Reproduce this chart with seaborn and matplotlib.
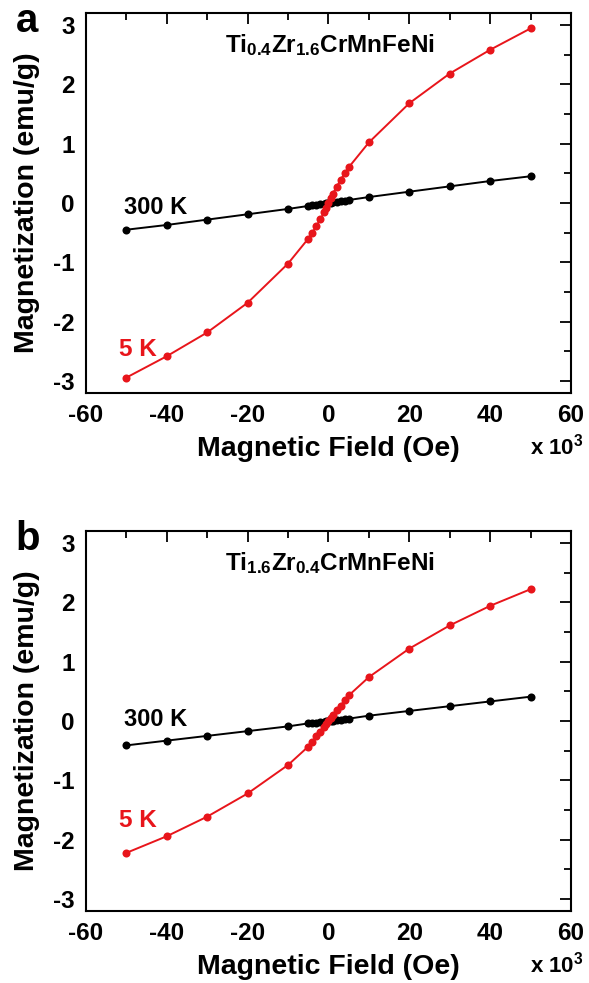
import numpy as np
import pandas as pd
import matplotlib
matplotlib.use("Agg")
import matplotlib.pyplot as plt
import seaborn as sns
from matplotlib.ticker import MultipleLocator

# ---------------- data (field in units of 10^3 Oe) ----------------
field = [-50, -40, -30, -20, -10, -5, -4, -3, -2, -1, -0.5, 0,
         0.5, 1, 2, 3, 4, 5, 10, 20, 30, 40, 50]

m5K_a = [-2.94, -2.58, -2.18, -1.68, -1.02, -0.60, -0.50, -0.39, -0.27, -0.15, -0.08, 0.0,
         0.08, 0.15, 0.27, 0.39, 0.50, 0.60, 1.02, 1.68, 2.18, 2.58, 2.94]
m300K_a = [-0.45, -0.37, -0.28, -0.19, -0.10, -0.05, -0.04, -0.03, -0.02, -0.01, -0.005, 0.0,
           0.005, 0.01, 0.02, 0.03, 0.04, 0.05, 0.10, 0.19, 0.28, 0.37, 0.45]

m5K_b = [-2.22, -1.94, -1.61, -1.22, -0.74, -0.43, -0.35, -0.26, -0.18, -0.10, -0.05, 0.0,
         0.05, 0.10, 0.18, 0.26, 0.35, 0.43, 0.74, 1.22, 1.61, 1.94, 2.22]
m300K_b = [-0.41, -0.33, -0.25, -0.17, -0.09, -0.04, -0.035, -0.025, -0.017, -0.008, -0.004, 0.0,
           0.004, 0.008, 0.017, 0.025, 0.035, 0.04, 0.09, 0.17, 0.25, 0.33, 0.41]

panel_letters = ["a", "b"]
compounds = [r"Ti$_{0.4}$Zr$_{1.6}$CrMnFeNi", r"Ti$_{1.6}$Zr$_{0.4}$CrMnFeNi"]
xticks = [-60, -40, -20, 0, 20, 40, 60]
yticks = [-3, -2, -1, 0, 1, 2, 3]
label_300K_y = [-0.08, 0.02]
label_5K_y = [-2.47, -1.68]

RED = "#e8151b"
BLACK = "#000000"

# ---------------- style ----------------
sns.set_theme(style="white")
plt.rcParams["font.family"] = ["Liberation Sans", "DejaVu Sans"]
plt.rcParams["font.weight"] = "bold"
plt.rcParams["text.color"] = "black"
plt.rcParams["axes.labelcolor"] = "black"
plt.rcParams["xtick.color"] = "black"
plt.rcParams["ytick.color"] = "black"
plt.rcParams["mathtext.fontset"] = "custom"
plt.rcParams["mathtext.rm"] = "Liberation Sans:bold"
plt.rcParams["mathtext.bf"] = "Liberation Sans:bold"
plt.rcParams["mathtext.it"] = "Liberation Sans:bold"
plt.rcParams["mathtext.default"] = "rm"

fig = plt.figure(figsize=(5.89, 9.83), dpi=100)
positions = [[0.146, 0.6002, 0.8234, 0.3866], [0.146, 0.0732, 0.8234, 0.3866]]

series = [(m5K_a, m300K_a), (m5K_b, m300K_b)]

for i in range(2):
    ax = fig.add_axes(positions[i])
    m5, m300 = series[i]
    df = pd.DataFrame({"field": field * 2,
                       "M": list(m300) + list(m5),
                       "T": ["300 K"] * len(field) + ["5 K"] * len(field)})
    sns.lineplot(data=df, x="field", y="M", hue="T", palette={"300 K": BLACK, "5 K": RED},
                 marker="o", markersize=5.8, markeredgewidth=0, linewidth=1.4,
                 sort=False, estimator=None, legend=False, ax=ax)
    ax.set_xlim(-60, 60)
    ax.set_ylim(-3.2, 3.2)
    ax.set_xticks(xticks)
    ax.set_yticks(yticks)
    ax.set_xticklabels([str(t) for t in xticks])
    ax.set_yticklabels([str(t) for t in yticks])
    ax.xaxis.set_minor_locator(MultipleLocator(10))
    ax.yaxis.set_minor_locator(MultipleLocator(0.5))
    ax.tick_params(which="major", direction="in", length=8, width=1.3,
                   top=True, right=True, labelsize=17.5, colors="black")
    ax.tick_params(axis="x", which="major", pad=8)
    ax.tick_params(axis="y", which="major", pad=8)
    ax.tick_params(which="minor", direction="in", length=5, width=1.3,
                   top=True, right=True)
    for lab in ax.get_xticklabels() + ax.get_yticklabels():
        lab.set_fontweight("bold")
    for s in ax.spines.values():
        s.set_visible(True)
        s.set_color("black")
        s.set_linewidth(1.5)
    ax.set_xlabel("Magnetic Field (Oe)", fontsize=20.5, fontweight="bold", va="top")
    ax.set_ylabel("Magnetization (emu/g)", fontsize=20.5, fontweight="bold")
    ax.xaxis.set_label_coords(0.5, -0.114)
    ax.yaxis.set_label_coords(-0.095, 0.5)
    ax.text(0.503, 0.915, compounds[i], transform=ax.transAxes, ha="center", va="center",
            fontsize=17.5, fontweight="bold")
    ax.text(-50.6, label_300K_y[i], "300 K", ha="left", va="center", fontsize=17,
            fontweight="bold", color=BLACK)
    ax.text(-51.8, label_5K_y[i], "5 K", ha="left", va="center", fontsize=17.5,
            fontweight="bold", color=RED)
    ax.text(1.027, -0.163, r"x 10$^{3}$", transform=ax.transAxes, ha="right", va="baseline",
            fontsize=16, fontweight="bold")
    ax.text(-0.145, 0.978, panel_letters[i], transform=ax.transAxes, ha="left", va="center",
            fontsize=29, fontweight="bold")

fig.savefig("out.png", dpi=100)
